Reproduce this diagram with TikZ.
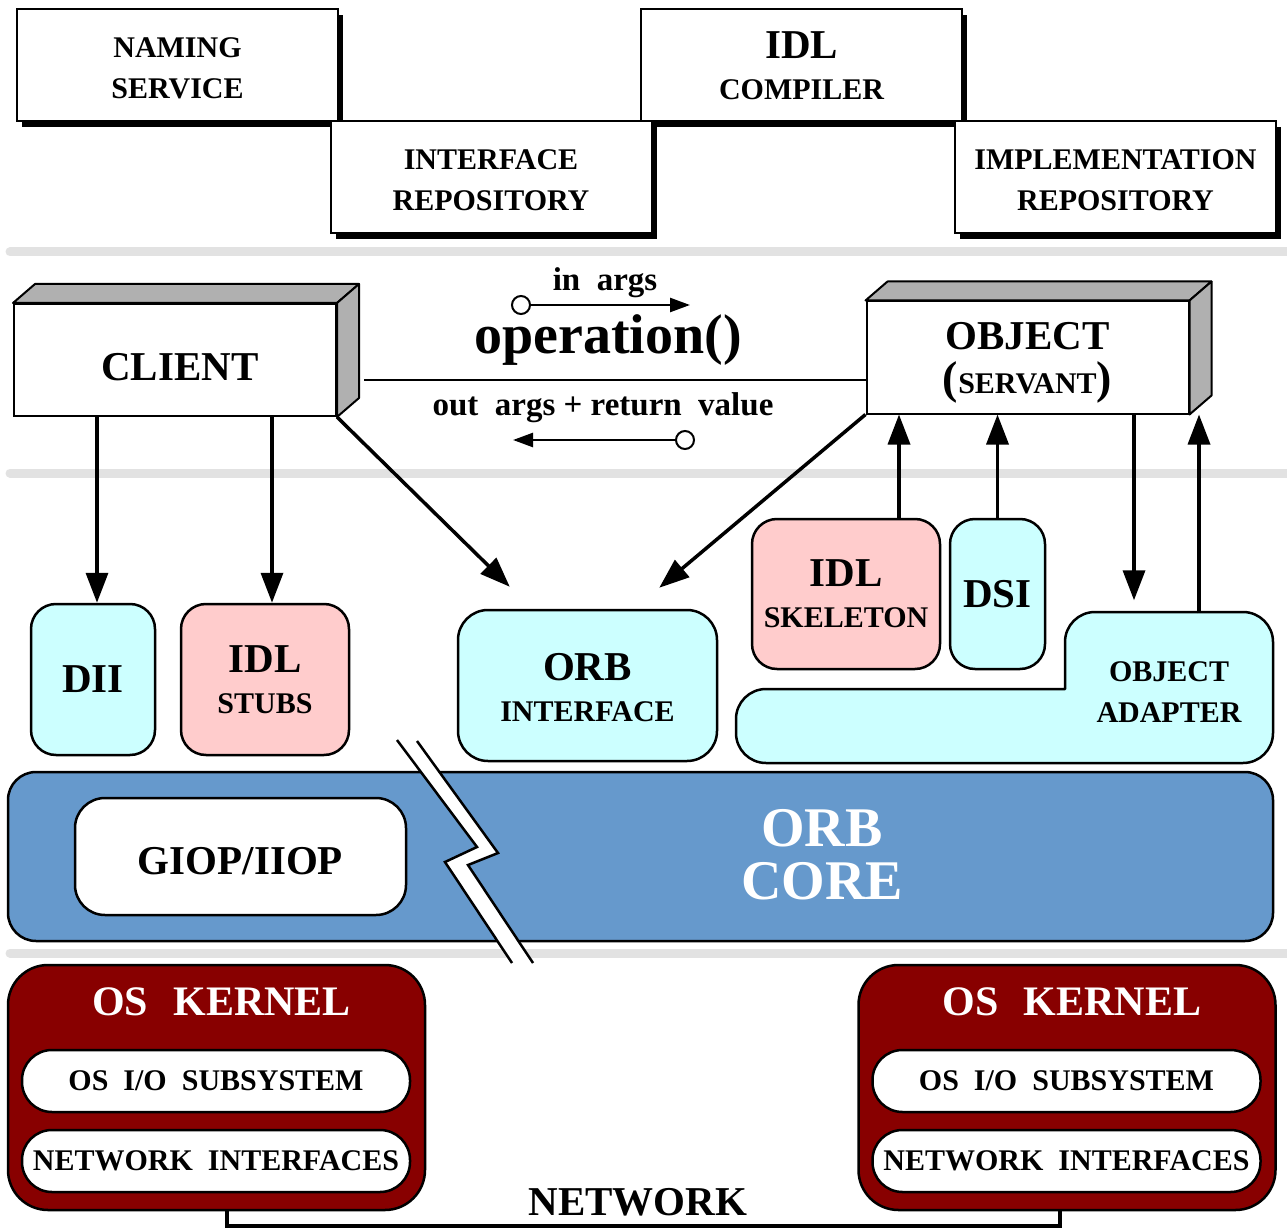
\documentclass[tikz,border=0pt]{standalone}
\usepackage{fontspec}
\setmainfont{Liberation Serif}
\usepackage{tikz}
\usetikzlibrary{arrows.meta,positioning,calc,shadows}
\tikzset{>/.tip={Triangle[length=30pt,width=22pt]}}
\definecolor{cyanbox}{HTML}{CCFFFF}
\definecolor{pinkbox}{HTML}{FFCCCC}
\definecolor{corebox}{HTML}{6699CC}
\definecolor{kernelbox}{HTML}{880000}
\definecolor{sepgray}{HTML}{E2E2E2}
\newcommand\fsm{\fontsize{30}{41}\selectfont\bfseries}
\newcommand\fbg{\fontsize{41}{44}\selectfont\bfseries}
\newcommand\fhg{\fontsize{56}{53}\selectfont\bfseries}
\tikzset{
  toolbox/.style={draw,line width=2pt,fill=white,minimum width=321pt,minimum height=112pt,
    align=center,font=\fsm,text height=68pt,drop shadow={shadow xshift=5pt,shadow yshift=-6pt,fill=black,opacity=1}},
  frontbox/.style={draw,line width=2pt,fill=white,minimum width=322pt,minimum height=112pt,align=center},
  sideface/.style={draw,line width=2pt,fill=gray!62,line join=round},
  sepline/.style={line width=9pt,sepgray,line cap=round},
  stub/.style={draw,line width=2.5pt,rounded corners=25pt,minimum height=151pt,align=center,font=\fsm},
  pill/.style={draw,line width=2.5pt,fill=white,rounded corners=30pt,minimum width=388pt,
    minimum height=62pt,font=\fsm,inner sep=2pt},
  kernel/.style={draw,line width=2.5pt,fill=kernelbox,rounded corners=40pt,minimum width=417pt,minimum height=245pt},
  bigarrow/.style={->,line width=3.5pt},
  argarrow/.style={-{Triangle[length=20pt,width=14pt]},line width=2.5pt},
  argdot/.style={circle,draw,line width=2pt,fill=white,minimum size=18pt,inner sep=0pt},
  argtext/.style={font=\fontsize{33}{36}\selectfont\bfseries}
}

\begin{document}
\begin{tikzpicture}[x=1pt,y=-1pt]
        \useasboundingbox (0,0) rectangle (1287,1230);
        % services
        \node(naming)[toolbox] at (177.5,65) {NAMING\\SERVICE};
        \node(idlc)[toolbox,text height=70pt] at (801.5,65) {{\fbg IDL}\\COMPILER};
        \node(ifr)[toolbox] at (491,177) {INTERFACE\\REPOSITORY};
        \node(impl)[toolbox] at (1115.5,177) {IMPLEMENTATION\\REPOSITORY};
        \draw[sepline] (10,252) -- (1287,252);
        \draw[sepline] (10,473) -- (1287,473);
        % client and servant
        \node(client)[frontbox,font=\fbg,text height=40pt,text depth=0pt] at (175,360) {\hspace{10pt}CLIENT};
        \draw[sideface] (client.north west) -- ++(22,-19) -- ([shift={(22,-19)}]client.north east) -- (client.north east) -- cycle;
        \draw[sideface] (client.north east) -- ++(22,-19) -- ([shift={(22,-19)}]client.south east) -- (client.south east) -- cycle;
        \node(object)[frontbox,font=\fbg,text depth=-12pt] at (1027.5,357.5) {OBJECT\\{\fontsize{46}{44}\selectfont(}{\fsm SERVANT}{\fontsize{46}{44}\selectfont)}};
        \draw[sideface] (object.north west) -- ++(22,-19) -- ([shift={(22,-19)}]object.north east) -- (object.north east) -- cycle;
        \draw[sideface] (object.north east) -- ++(22,-19) -- ([shift={(22,-19)}]object.south east) -- (object.south east) -- cycle;
        \coordinate(opstart) at ($(client.east)+(27,20)$);
        \draw[line width=2.5pt] (opstart) -- (opstart -| object.west);
        \node(opname)[font=\fhg] at (608,340) {operation()};
        \node(inargs)[argtext] at (605,283) {in~~args};
        \node(outargs)[argtext] at (603,408) {out~~args + return~~value};
        \node(indot)[argdot] at (521,305) {};
        \coordinate(intip) at (690,305);
        \node(outdot)[argdot] at (685,440) {};
        \coordinate(outtip) at (513,440);
        \draw[argarrow] (indot) -- (intip);
        \draw[argarrow] (outdot) -- (outtip);
        % stubs, skeletons, adapter
        \node(dii)[stub,fill=cyanbox,minimum width=124pt,font=\fbg] at (93,679.5) {DII};
        \node(stubs)[stub,fill=pinkbox,minimum width=168pt] at (265,679.5) {{\fbg IDL}\\STUBS};
        \node(orbif)[stub,fill=cyanbox,minimum width=259pt,rounded corners=30pt,text height=73pt] at (587.5,685.5) {{\fbg ORB}\\INTERFACE};
        \node(skel)[stub,fill=pinkbox,minimum width=188pt,minimum height=150pt] at (846,594) {{\fbg IDL}\\SKELETON};
        \node(dsi)[stub,fill=cyanbox,minimum width=95pt,minimum height=150pt,font=\fbg] at (997.5,594) {DSI};
        \draw[line width=2.5pt,fill=cyanbox,rounded corners=30pt,line cap=round]
          (1065,689) -- (1065,612) -- (1273,612) -- (1273,763) -- (736,763) -- (736,689) -- (1065,689);
        \node(oa)[align=center,font=\fsm,minimum width=208pt,minimum height=151pt] at (1169,692) {OBJECT\\ADAPTER};
        \path[bigarrow]
        ([xshift=4pt]dii.north |- client.south) edge ([xshift=4pt]dii.north)
        ([xshift=7pt]stubs.north |- client.south) edge ([xshift=7pt]stubs.north)
        (client.south east) edge ([xshift=53pt,yshift=22pt]orbif.north west)
        (object.south west) edge ([xshift=-59pt,yshift=21pt]orbif.north east)
        ([xshift=53pt]skel.north) edge ([xshift=53pt]skel.north |- object.south)
        (dsi.north) edge (dsi.north |- object.south)
        ([xshift=-35pt]oa.north |- object.south) edge ([xshift=-35pt,yshift=16pt]oa.north)
        ([xshift=30pt,yshift=3pt]oa.north) edge ([xshift=30pt]oa.north |- object.south);
        % orb core
        \node(core)[draw,line width=2.5pt,fill=corebox,rounded corners=28pt,minimum width=1265pt,minimum height=169pt] at (640.5,856.5) {};
        \node(corelbl)[font=\fhg,text=white,align=center] at (822,855) {ORB\\CORE};
        \node(giop)[draw,line width=2.5pt,fill=white,rounded corners=30pt,minimum width=331pt,minimum height=117pt,font=\fbg,text height=36pt] at (240.5,856.5) {GIOP/IIOP};
        \draw[sepline] (10,953) -- (1287,953);
        \fill[white] (397,740) -- (477,847) -- (445,862) -- (512,963) -- (533,963) -- (468,865) -- (498,853) -- (417,741) -- cycle;
        \draw[line width=2.5pt] (397,740) -- (477,847) -- (445,862) -- (512,963);
        \draw[line width=2.5pt] (417,741) -- (498,853) -- (468,865) -- (533,963);
        % os kernels
        \node(osl)[kernel] at (216.5,1087.5) {};
        \node(osr)[kernel] at (1067,1087.5) {};
        \node(osltitle)[font=\fontsize{42}{44}\selectfont\bfseries,text=white] at ([xshift=5pt,yshift=-38pt]osl.north) {OS\hspace{0.6em}KERNEL};
        \node(osrtitle)[font=\fontsize{42}{44}\selectfont\bfseries,text=white] at ([xshift=5pt,yshift=-38pt]osr.north) {OS\hspace{0.6em}KERNEL};
        \node(iol)[pill] at (216,1081) {OS\ \ I/O\ \ SUBSYSTEM};
        \node(nicl)[pill] at (216,1161) {NETWORK\ \ INTERFACES};
        \node(ior)[pill] at (1066.5,1081) {OS\ \ I/O\ \ SUBSYSTEM};
        \node(nicr)[pill] at (1066.5,1161) {NETWORK\ \ INTERFACES};
        \draw[line width=4pt] ([xshift=10pt]osl.south) -- ++(0,15) -| ([xshift=-7pt]osr.south);
        \node(netlbl)[font=\fbg] at (638,1202) {NETWORK};
\end{tikzpicture}
\end{document}
